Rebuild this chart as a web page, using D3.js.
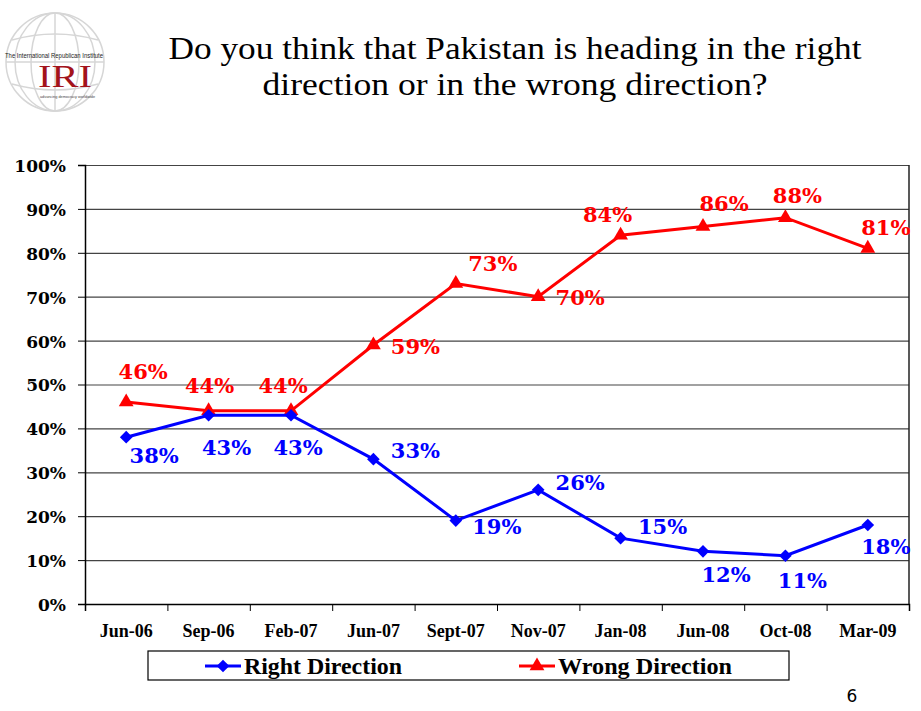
<!DOCTYPE html>
<html>
<head>
<meta charset="utf-8">
<script src="https://cdn.jsdelivr.net/npm/d3@7"></script>
<style>
  body { margin: 0; background: #fff; }
  svg { display: block; }
</style>
</head>
<body>
<svg id="drawing_region"></svg>
<script>
// data
const months = ['Jun-06', 'Sep-06', 'Feb-07', 'Jun-07', 'Sept-07', 'Nov-07', 'Jan-08', 'Jun-08', 'Oct-08', 'Mar-09'];
const rightDirection = [38, 43, 43, 33, 19, 26, 15, 12, 11, 18];
const wrongDirection = [46, 44, 44, 59, 73, 70, 84, 86, 88, 81];
const yTicks = [0, 10, 20, 30, 40, 50, 60, 70, 80, 90, 100];

// label offsets (dx, dy from the point to the label centre / baseline)
const rightOffsets = [[28, 26], [18, 40], [7, 40], [42, -1], [41, 13], [42, 0], [42, -4], [23, 31], [17, 32], [18, 29]];
const wrongOffsets = [[17, -23], [1, -18], [-8, -18], [42, 9], [37, -13], [42, 8], [-13, -13], [21, -15], [12, -15], [18, -13]];

const config = {
    width: 921,
    height: 711,
    margin: {top: 165, right: 12, bottom: 107, left: 85}
};

const svg = d3.select('#drawing_region')
    .attr('width', config.width)
    .attr('height', config.height);

const inner_width = config.width - config.margin.left - config.margin.right;
const inner_height = config.height - config.margin.top - config.margin.bottom;

// logo
const logo = svg.append('g');
const globe = logo.append('g')
    .attr('fill', 'none')
    .attr('stroke', '#d6d6d6')
    .attr('stroke-width', 1.5);
globe.append('circle').attr('cx', 55).attr('cy', 62).attr('r', 49);
globe.append('ellipse').attr('cx', 55).attr('cy', 62).attr('rx', 24).attr('ry', 49);
globe.append('ellipse').attr('cx', 55).attr('cy', 62).attr('rx', 40).attr('ry', 49);
globe.append('line').attr('x1', 55).attr('x2', 55).attr('y1', 13).attr('y2', 111);
globe.append('path').attr('d', 'M12,40 Q55,28 98,40');
globe.append('path').attr('d', 'M6,62 L104,62');
globe.append('path').attr('d', 'M12,84 Q55,96 98,84');
logo.append('text')
    .attr('x', 5).attr('y', 58)
    .attr('textLength', 98).attr('lengthAdjust', 'spacingAndGlyphs')
    .style('font-family', 'Liberation Sans, Arial, sans-serif')
    .style('font-size', '6.5px')
    .attr('fill', '#222')
    .text('The International Republican Institute');
logo.append('text')
    .attr('x', 38).attr('y', 87)
    .attr('textLength', 54).attr('lengthAdjust', 'spacingAndGlyphs')
    .style('font-family', 'Liberation Serif, serif')
    .style('font-size', '31px')
    .attr('fill', '#a3131b')
    .text('IRI');
logo.append('text')
    .attr('x', 40).attr('y', 98)
    .attr('textLength', 55).attr('lengthAdjust', 'spacingAndGlyphs')
    .style('font-family', 'Liberation Sans, Arial, sans-serif')
    .style('font-size', '4px')
    .attr('fill', '#444')
    .text('advancing democracy worldwide');

// title
const title = svg.append('g')
    .style('font-family', 'Liberation Serif, Times New Roman, serif')
    .style('font-size', '32px')
    .attr('fill', '#000')
    .attr('text-anchor', 'middle');
title.append('text')
    .attr('x', 515).attr('y', 59)
    .attr('textLength', 693).attr('lengthAdjust', 'spacingAndGlyphs')
    .text('Do you think that Pakistan is heading in the right');
title.append('text')
    .attr('x', 515).attr('y', 95)
    .attr('textLength', 505).attr('lengthAdjust', 'spacingAndGlyphs')
    .text('direction or in the wrong direction?');

const chart = svg.append('g')
    .attr('transform', `translate(${config.margin.left}, ${config.margin.top})`);

const xscale = d3.scaleBand()
    .domain(months)
    .range([0, inner_width]);

const yscale = d3.scaleLinear()
    .domain([0, 100])
    .range([inner_height, 0]);

const cx = d => xscale(d) + xscale.bandwidth() / 2;

// gridlines
const grid = chart.append('g')
    .call(d3.axisLeft(yscale).tickValues(yTicks).tickSize(-inner_width).tickFormat(''));
grid.select('.domain').remove();
grid.selectAll('line').attr('stroke', '#444').attr('stroke-width', 1.2);

// plot border on the right
chart.append('line')
    .attr('x1', inner_width).attr('x2', inner_width)
    .attr('y1', 0).attr('y2', inner_height)
    .attr('stroke', '#222').attr('stroke-width', 1.5);

// y axis
const yaxis_group = chart.append('g')
    .call(d3.axisLeft(yscale).tickValues(yTicks).tickSize(7).tickPadding(12).tickFormat(d => d + '%'));
yaxis_group.select('.domain').attr('stroke', '#000').attr('stroke-width', 1.5);
yaxis_group.selectAll('line').attr('stroke', '#000');
yaxis_group.selectAll('text')
    .attr('dy', '0.38em')
    .style('font-family', 'DejaVu Serif, Georgia, serif')
    .style('font-weight', 'bold')
    .style('font-size', '17px')
    .attr('fill', '#000');

// x axis: ticks at the band boundaries, labels in the middle
const xbound = d3.scaleLinear().domain([0, months.length]).range([0, inner_width]);
const xtick_group = chart.append('g')
    .attr('transform', `translate(0, ${inner_height})`)
    .call(d3.axisBottom(xbound).tickValues(d3.range(months.length + 1)).tickSize(7).tickFormat(''));
xtick_group.select('.domain').attr('stroke', '#000').attr('stroke-width', 1.5);
xtick_group.selectAll('line').attr('stroke', '#000');

const xaxis_group = chart.append('g')
    .attr('transform', `translate(0, ${inner_height})`)
    .call(d3.axisBottom(xscale).tickSize(0).tickPadding(20));
xaxis_group.select('.domain').remove();
xaxis_group.selectAll('text')
    .style('font-family', 'Liberation Serif, Times New Roman, serif')
    .style('font-weight', 'bold')
    .style('font-size', '18px')
    .attr('fill', '#000');

// series
const series = [
    {name: 'Right Direction', values: rightDirection, offsets: rightOffsets, color: '#0000ff', symbol: d3.symbolSquare, rotate: 45, size: 80, textLen: 158},
    {name: 'Wrong Direction', values: wrongDirection, offsets: wrongOffsets, color: '#ff0000', symbol: d3.symbolTriangle, rotate: 0, size: 95, textLen: 174}
];

const line = d3.line()
    .x((d, i) => cx(months[i]))
    .y(d => yscale(d));

// wrong direction drawn first so the blue line sits on top where they touch
[series[1], series[0]].forEach(s => {
    chart.append('path')
        .datum(s.values)
        .attr('fill', 'none')
        .attr('stroke', s.color)
        .attr('stroke-width', 3)
        .attr('d', line);

    chart.selectAll(null)
        .data(s.values)
        .enter()
        .append('path')
        .attr('d', d3.symbol().type(s.symbol).size(s.size))
        .attr('transform', (d, i) => `translate(${cx(months[i])}, ${yscale(d)}) rotate(${s.rotate})`)
        .attr('fill', s.color);

    chart.selectAll(null)
        .data(s.values)
        .enter()
        .append('text')
        .attr('x', (d, i) => cx(months[i]) + s.offsets[i][0])
        .attr('y', (d, i) => yscale(d) + s.offsets[i][1])
        .attr('text-anchor', 'middle')
        .style('font-family', 'DejaVu Serif, Georgia, serif')
        .style('font-weight', 'bold')
        .style('font-size', '21px')
        .attr('fill', s.color)
        .text(d => d + '%');
});

// legend
const legend = svg.append('g');
legend.append('rect')
    .attr('x', 148).attr('y', 651)
    .attr('width', 641).attr('height', 29)
    .attr('fill', 'none')
    .attr('stroke', '#000')
    .attr('stroke-width', 1.2);

const legendX = [205, 519];
series.forEach((s, i) => {
    const g = legend.append('g').attr('transform', `translate(${legendX[i]}, 666)`);
    g.append('line')
        .attr('x1', 0).attr('x2', 36)
        .attr('stroke', s.color).attr('stroke-width', 3);
    g.append('path')
        .attr('d', d3.symbol().type(s.symbol).size(s.size))
        .attr('transform', `translate(18, 0) rotate(${s.rotate})`)
        .attr('fill', s.color);
    g.append('text')
        .attr('x', 39).attr('y', 8)
        .attr('textLength', s.textLen).attr('lengthAdjust', 'spacingAndGlyphs')
        .style('font-family', 'Liberation Serif, Times New Roman, serif')
        .style('font-weight', 'bold')
        .style('font-size', '23px')
        .attr('fill', '#000')
        .text(s.name);
});

// page number
svg.append('text')
    .attr('x', 852).attr('y', 702)
    .attr('text-anchor', 'middle')
    .style('font-family', 'DejaVu Sans, sans-serif')
    .style('font-size', '17px')
    .attr('fill', '#000')
    .text('6');
</script>
</body>
</html>
